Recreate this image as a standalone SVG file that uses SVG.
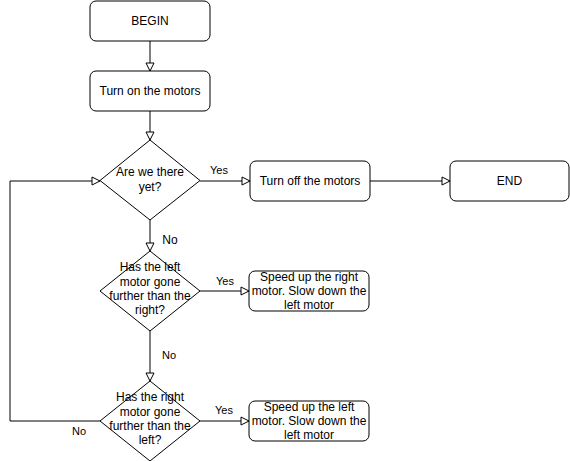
<svg xmlns="http://www.w3.org/2000/svg" width="570" height="461" viewBox="0 0 570 461">
<style>
.n{fill:#fff;stroke:#000;stroke-width:1}
.t{font-family:"Liberation Sans",Arial,sans-serif;font-size:12px;fill:#000;text-anchor:middle}
.l{font-family:"Liberation Sans",Arial,sans-serif;font-size:11px;fill:#000;text-anchor:middle}
.c{fill:none;stroke:#000;stroke-width:1;marker-end:url(#a)}
</style>
<defs>
<marker id="a" markerUnits="userSpaceOnUse" markerWidth="10" markerHeight="10" refX="8" refY="4" orient="auto" viewBox="-1 -1 10 10">
<path d="M0,0 L8,4 L0,8 Z" fill="#fff" stroke="#000" stroke-width="1"/>
</marker>
</defs>
<rect width="570" height="461" fill="#fff"/>
<g id="connectors">
<path class="c" d="M150,41 V71"/>
<path class="c" d="M150,111 V140"/>
<path class="c" d="M200,181 H250"/>
<path class="c" d="M370,181 H450"/>
<path class="c" d="M150,220 V251"/>
<path class="c" d="M200,291 H249"/>
<path class="c" d="M150,331 V381"/>
<path class="c" d="M200,421 H249"/>
<path class="c" d="M100,421 H10 V181 H100"/>
<text class="l" x="219" y="174">Yes</text>
<text class="t" x="170" y="244">No</text>
<text class="l" x="225" y="285">Yes</text>
<text class="l" x="169" y="359">No</text>
<text class="l" x="224" y="414">Yes</text>
<text class="l" x="79" y="435">No</text>
</g>
<g id="begin"><rect class="n" x="90" y="1" width="120" height="40" rx="6"/><text class="t" x="150" y="25">BEGIN</text></g>
<g id="turn-on"><rect class="n" x="90" y="71" width="120" height="40" rx="6"/><text class="t" x="150" y="95">Turn on the motors</text></g>
<g id="there-yet"><path class="n" d="M150,140 L200,180.5 L150,220 L100,180.5 Z"/><text class="t" x="150" y="176">Are we there</text><text class="t" x="150" y="191">yet?</text></g>
<g id="turn-off"><rect class="n" x="250" y="161" width="120" height="40" rx="6"/><text class="t" x="310" y="185">Turn off the motors</text></g>
<g id="end"><rect class="n" x="450" y="161" width="119" height="40" rx="6"/><text class="t" x="509.5" y="185">END</text></g>
<g id="left-further"><path class="n" d="M150,251 L200,291 L150,331 L100,291 Z"/><text class="t" x="150" y="271">Has the left</text><text class="t" x="150" y="286">motor gone</text><text class="t" x="150" y="300">further than the</text><text class="t" x="150" y="314">right?</text></g>
<g id="speed-right"><rect class="n" x="249" y="271" width="120" height="40" rx="6"/><text class="t" x="309" y="281">Speed up the right</text><text class="t" x="309" y="295">motor. Slow down the</text><text class="t" x="309" y="309">left motor</text></g>
<g id="right-further"><path class="n" d="M150,381 L200,421 L150,461 L100,421 Z"/><text class="t" x="150" y="401">Has the right</text><text class="t" x="150" y="416">motor gone</text><text class="t" x="150" y="430">further than the</text><text class="t" x="150" y="444">left?</text></g>
<g id="speed-left"><rect class="n" x="249" y="401" width="120" height="40" rx="6"/><text class="t" x="309" y="411">Speed up the left</text><text class="t" x="309" y="425">motor. Slow down the</text><text class="t" x="309" y="439">left motor</text></g>
</svg>
